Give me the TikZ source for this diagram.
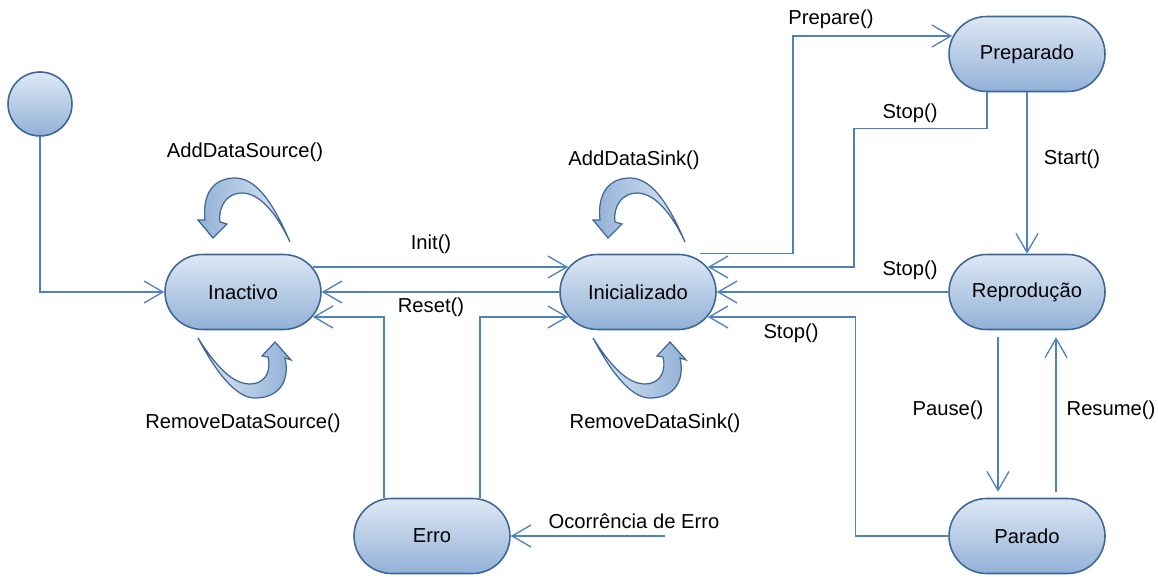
\documentclass[tikz,border=0pt]{standalone}
\usepackage{fontspec}
\setmainfont{Liberation Sans}
\usetikzlibrary{arrows.meta,calc,shapes.misc}
\definecolor{nodetop}{RGB}{222,232,244}
\definecolor{nodebot}{RGB}{146,177,215}
\definecolor{nodeline}{RGB}{62,102,152}
\definecolor{conn}{RGB}{79,129,189}
\tikzset{
  state/.style={rounded rectangle, draw=nodeline, line width=0.9pt,
    top color=nodetop, bottom color=nodebot,
    minimum width=3.12cm, minimum height=1.5cm, inner sep=0pt,
    font=\fontsize{11.5}{13.8}\selectfont},
  startstate/.style={circle, draw=nodeline, line width=0.9pt,
    top color=nodetop, bottom color=nodebot, minimum size=1.28cm, inner sep=0pt},
  conn/.style={draw=conn, line width=0.75pt,
    -{Straight Barb[length=0.38cm,width=0.44cm,line width=0.75pt]}},
  lbl/.style={font=\fontsize{11.5}{13.8}\selectfont, inner sep=0pt},
  loopup/.style={draw=nodeline, line width=0.7pt, left color=nodebot, right color=nodetop},
  loopdown/.style={draw=nodeline, line width=0.7pt, left color=nodetop, right color=nodebot},
}
\begin{document}
\begin{tikzpicture}[x=0.02cm,y=-0.02cm]
\useasboundingbox (0,0) rectangle (1158,577);

% states
\node[startstate] (start) at (40,104) {};
\node[state] (Inactivo) at (243,292) {Inactivo};
\node[state] (Inicializado) at (638,292) {Inicializado};
\node[state] (Preparado) at (1027,54) {Preparado};
\node[state] (Reproducao) at (1027,292) {Reprodução};
\node[state] (Parado) at (1027,536) {Parado};
\node[state] (Erro) at (432,536) {Erro};
\coordinate (errsrc) at (665,536);

% self loops
\foreach \n in {Inactivo,Inicializado}{
\begin{scope}[shift={(\n.center)}]
\path[loopup] (47,-50) .. controls (29,-92) and (12,-114) .. (-8,-114)
  .. controls (-28,-114) and (-41,-100) .. (-38,-72) -- (-45,-72) -- (-30,-54)
  -- (-16,-68) -- (-23,-70) .. controls (-25,-87) and (-15,-99) .. (-1,-99)
  .. controls (15,-99) and (32,-82) .. (47,-50) -- cycle;
\path[loopdown] (-45,46) .. controls (-28,78) and (-8,106) .. (12,106)
  .. controls (37,106) and (47,88) .. (42,66) -- (48,68) -- (32,50)
  -- (19,64) -- (25,65) .. controls (29,83) and (19,92) .. (7,92)
  .. controls (-11,92) and (-28,73) .. (-45,46) -- cycle;
\end{scope}}

% connectors
\draw[conn] (start.south) |- (Inactivo.west);
\draw[conn] ($(Inactivo.east)+(-9,-25)$) -- ($(Inicializado.west)+(9,-25)$);
\draw[conn] (Inicializado.west) -- (Inactivo.east);
\draw[conn] ($(Erro.north)+(-48,0)$) |- ($(Inactivo.east)+(-9,25)$);
\draw[conn] ($(Erro.north)+(48,0)$) |- ($(Inicializado.west)+(9,25)$);
\draw[conn] (errsrc) -- (Erro.east);
\draw[conn] ($(Inicializado.north)+(62,0)$) -- ++(93,0) |- ($(Preparado.west)+(4,-18)$);
\draw[conn] ($(Preparado.south)+(-40,0)$) -- ++(0,36) -- ++(-133,0) |- ($(Inicializado.east)+(-9,-25)$);
\draw[conn] (Preparado.south) -- (Reproducao.north);
\draw[conn] (Reproducao.west) -- (Inicializado.east);
\draw[conn] (Parado.west) -- ++(-93,0) |- ($(Inicializado.east)+(-9,25)$);
\draw[conn] ($(Reproducao.south)+(-29,7)$) -- ($(Parado.north)+(-29,-6)$);
\draw[conn] ($(Parado.north)+(29,-6)$) -- ($(Reproducao.south)+(29,7)$);

% labels
\node[lbl] (lPrepare) at (831,19) {Prepare()};
\node[lbl] (lStopA) at (910,113) {Stop()};
\node[lbl] (lStart) at (1072,159) {Start()};
\node[lbl] (lAddSrc) at (245,152) {AddDataSource()};
\node[lbl] (lAddSink) at (634,160) {AddDataSink()};
\node[lbl] (lInit) at (431,244) {Init()};
\node[lbl] (lStopB) at (910,270) {Stop()};
\node[lbl] (lReset) at (431,307) {Reset()};
\node[lbl] (lStopC) at (791,333) {Stop()};
\node[lbl] (lRemSrc) at (243,423) {RemoveDataSource()};
\node[lbl] (lRemSink) at (655,423) {RemoveDataSink()};
\node[lbl] (lPause) at (948,410) {Pause()};
\node[lbl] (lResume) at (1111,410) {Resume()};
\node[lbl] (lErr) at (634,521) {Ocorrência de Erro};
\end{tikzpicture}
\end{document}
